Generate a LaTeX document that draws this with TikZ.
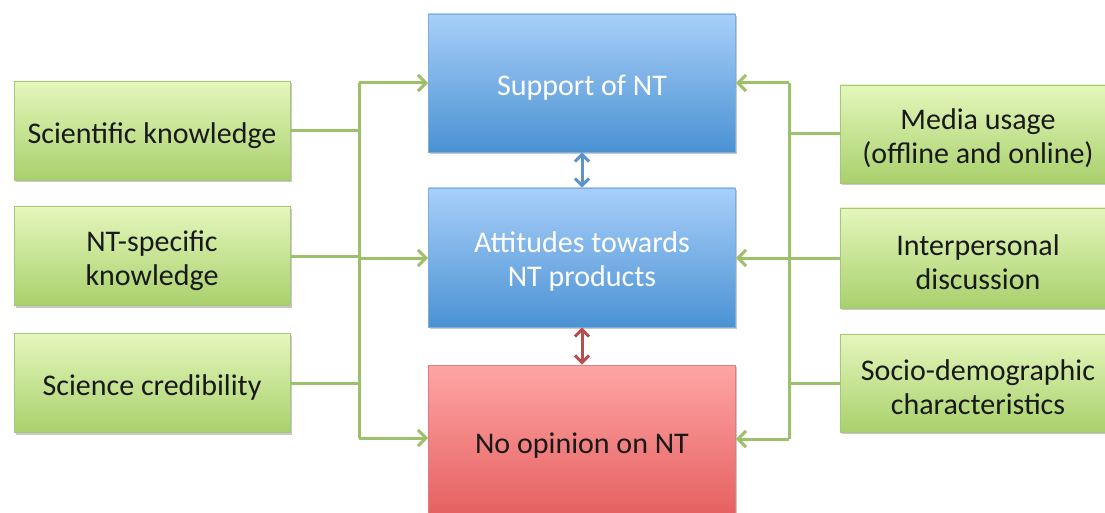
\documentclass[tikz,border=0pt]{standalone}
\usepackage{fontspec}
\setmainfont{Carlito}
\usetikzlibrary{arrows.meta,shadows}
\definecolor{gtop}{HTML}{E4F7BC}
\definecolor{gbot}{HTML}{A9D06C}
\definecolor{gbrd}{HTML}{A6C777}
\definecolor{btop}{HTML}{A8CFFA}
\definecolor{bbot}{HTML}{4B92D3}
\definecolor{bbrd}{HTML}{7AAEDD}
\definecolor{rtop}{HTML}{FFA5A5}
\definecolor{rbot}{HTML}{E25757}
\definecolor{rbrd}{HTML}{D88080}
\definecolor{gline}{HTML}{9DC06A}
\definecolor{bline}{HTML}{5E93C8}
\definecolor{rline}{HTML}{B54F4F}
\tikzset{
  x=1pt,y=-1pt,
  boxfont/.style={font=\fontsize{30}{34}\selectfont},
  txt/.style={boxfont,align=center,inner sep=0pt,yshift=-4.5pt},
  darktxt/.style={txt,text=black!90},
  lighttxt/.style={txt,text=white},
  basebox/.style={rectangle,draw,line width=0.8pt,
    drop shadow={shadow xshift=1.5pt,shadow yshift=-2pt,opacity=0.35,fill=black!60},inner sep=0pt},
  greenbox/.style={basebox,draw=gbrd,top color=gtop,bottom color=gbot,minimum width=276pt,minimum height=99pt},
  bluebox/.style={basebox,draw=bbrd,top color=btop,bottom color=bbot,minimum width=307pt,minimum height=138pt},
  redbox/.style={basebox,draw=rbrd,top color=rtop,bottom color=rbot,minimum width=307pt},
  conn/.style={draw=gline,line width=3pt},
  connarrow/.style={conn,-{Straight Barb[length=8pt,width=16pt,line width=3pt]}},
  dbl/.style={line width=3pt,{Straight Barb[length=7pt,width=14pt]}-{Straight Barb[length=7pt,width=14pt]}}
}
\begin{document}
\begin{tikzpicture}
\useasboundingbox (0,0) rectangle (1105,513);
\clip (0,0) rectangle (1105,513);
\fill[white] (0,0) rectangle (1105,513);
% left
\node[greenbox] (l1) at (152,131) {};
\node[darktxt] (l1t) at (l1.center) {Scientific knowledge};
\node[greenbox] (l2) at (152,256) {};
\node[darktxt] (l2t) at (l2.center) {NT-specific\\knowledge};
\node[greenbox] (l3) at (152,383) {};
\node[darktxt] (l3t) at (l3.center) {Science credibility};
% center
\node[bluebox] (c1) at (582,83) {};
\node[lighttxt] (c1t) at (c1.center) {Support of NT};
\node[bluebox,minimum height=139pt] (c2) at (582,257.5) {};
\node[lighttxt] (c2t) at (c2.center) {Attitudes towards\\NT products};
\node[redbox,minimum height=170pt] (c3) at (582,450) {};
\node[darktxt] (c3t) at (582,441) {No opinion on NT};
% right
\node[greenbox,minimum height=98pt] (r1) at (978,134) {};
\node[darktxt] (r1t) at (r1.center) {Media usage\\(offline and online)};
\node[greenbox,minimum height=100pt] (r2) at (978,258) {};
\node[darktxt] (r2t) at (r2.center) {Interpersonal\\discussion};
\node[greenbox,minimum height=98pt] (r3) at (978,383) {};
\node[darktxt] (r3t) at (r3.center) {Socio-demographic\\characteristics};
% left connectors
\coordinate (lvt) at (359,83);
\coordinate (lvm) at (359,258);
\coordinate (lvb) at (359,438);
\draw[conn] (lvt) -- (lvb);
\draw[conn] (l1.east) -- (l1.east -| lvt);
\draw[conn] (l2.east) -- (l2.east -| lvt);
\draw[conn] (l3.east) -- (l3.east -| lvt);
\draw[connarrow] (lvt) -- (lvt -| c1.west);
\draw[connarrow] (lvm) -- (lvm -| c2.west);
\draw[connarrow] (lvb) -- (lvb -| c3.west);
% right connectors
\coordinate (rvt) at (789,83);
\coordinate (rvm) at (789,258);
\coordinate (rvb) at (789,439);
\draw[conn] (rvt) -- (rvb);
\draw[conn] (r1.west) -- (r1.west -| rvt);
\draw[conn] (r2.west) -- (r2.west -| rvt);
\draw[conn] (r3.west) -- (r3.west -| rvt);
\draw[connarrow] (rvt) -- (rvt -| c1.east);
\draw[connarrow] (rvm) -- (rvm -| c2.east);
\draw[connarrow] (rvb) -- (rvb -| c3.east);
% center double arrows
\draw[dbl,draw=bline] (c1.south) -- (c2.north);
\draw[dbl,draw=rline] (c2.south) -- (c3.north);
\end{tikzpicture}
\end{document}
